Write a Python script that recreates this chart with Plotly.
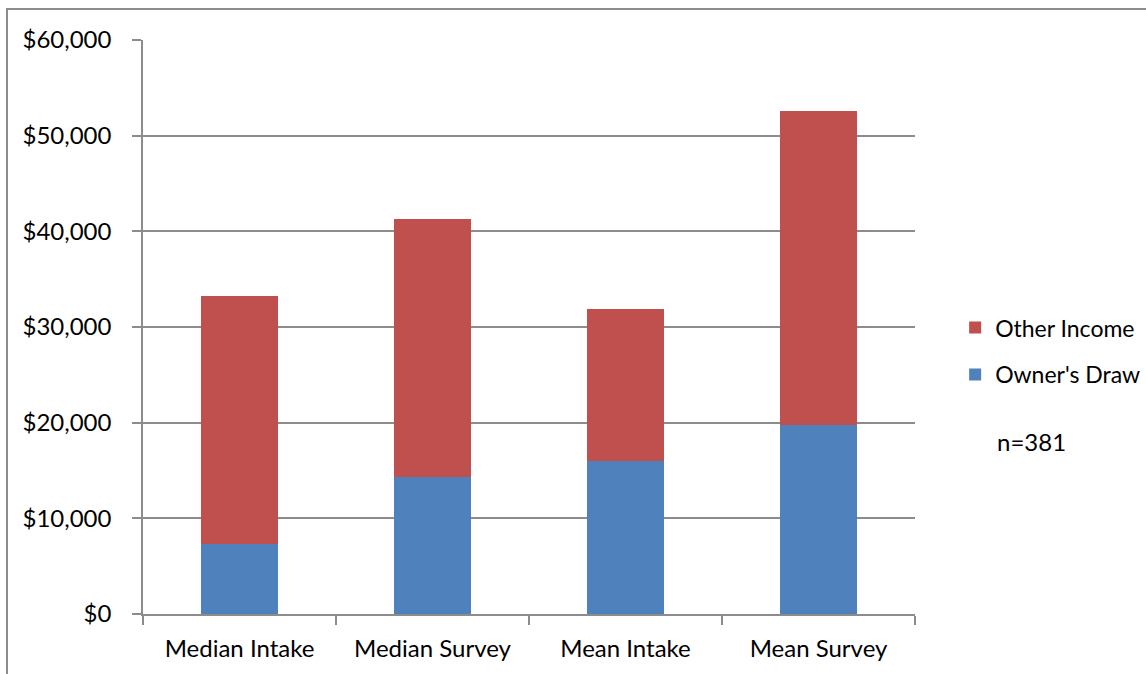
import plotly.graph_objects as go

# Income components by measure (US dollars)
categories = ["Median Intake", "Median Survey", "Mean Intake", "Mean Survey"]
owners_draw = [7330, 14350, 16000, 19780]
other_income = [25920, 26930, 15900, 32780]
y_ticks = [0, 10000, 20000, 30000, 40000, 50000, 60000]
y_tick_labels = ["$0", "$10,000", "$20,000", "$30,000", "$40,000", "$50,000", "$60,000"]
sample_note = "n=381"

BLUE = "#4F81BD"
RED = "#C0504D"
GRID = "#8C8C8C"
FONT = "Lato, 'Open Sans', sans-serif"

fig = go.Figure()
fig.add_trace(go.Bar(
    x=categories, y=owners_draw, name="Owner's Draw",
    marker=dict(color=BLUE, line=dict(width=0)), width=0.4,
    legendgroup="b", legendrank=2,
))
fig.add_trace(go.Bar(
    x=categories, y=other_income, name="Other Income",
    marker=dict(color=RED, line=dict(width=0)), width=0.4,
    legendgroup="a", legendrank=1,
))

fig.update_layout(
    width=1146, height=674,
    margin=dict(l=143, r=231, t=40, b=60, autoexpand=False),
    barmode="stack",
    plot_bgcolor="white", paper_bgcolor="white",
    font=dict(family=FONT, size=24, color="#000000"),
    showlegend=True,
    legend=dict(
        x=1.052, y=0.458, xanchor="left", yanchor="middle",
        traceorder="grouped", tracegroupgap=14,
        font=dict(size=23), itemwidth=30,
        bgcolor="rgba(0,0,0,0)",
    ),
    xaxis=dict(
        showline=True, linecolor=GRID, linewidth=1.5,
        ticks="outside", tickson="boundaries", ticklen=9, tickcolor=GRID, tickwidth=1.5,
        showgrid=False, ticklabelstandoff=12,
    ),
    yaxis=dict(
        range=[0, 60000], tickvals=y_ticks, ticktext=y_tick_labels,
        showline=True, linecolor=GRID, linewidth=1.5,
        ticks="outside", ticklen=9, tickcolor=GRID, tickwidth=1.5,
        showgrid=True, gridcolor=GRID, gridwidth=1.5,
        zeroline=False, ticklabelstandoff=16,
    ),
    annotations=[dict(
        text=sample_note, xref="paper", yref="paper",
        x=1.1036, y=0.301, xanchor="left", yanchor="middle",
        showarrow=False, font=dict(size=24),
    )],
    shapes=[dict(
        type="rect", xref="paper", yref="paper",
        x0=-0.1762, x1=1.4, y0=-0.3, y1=1.054,
        line=dict(color="#8C8C8C", width=2), fillcolor="rgba(0,0,0,0)",
        layer="below",
    )],
)

fig.write_html("out.html")
